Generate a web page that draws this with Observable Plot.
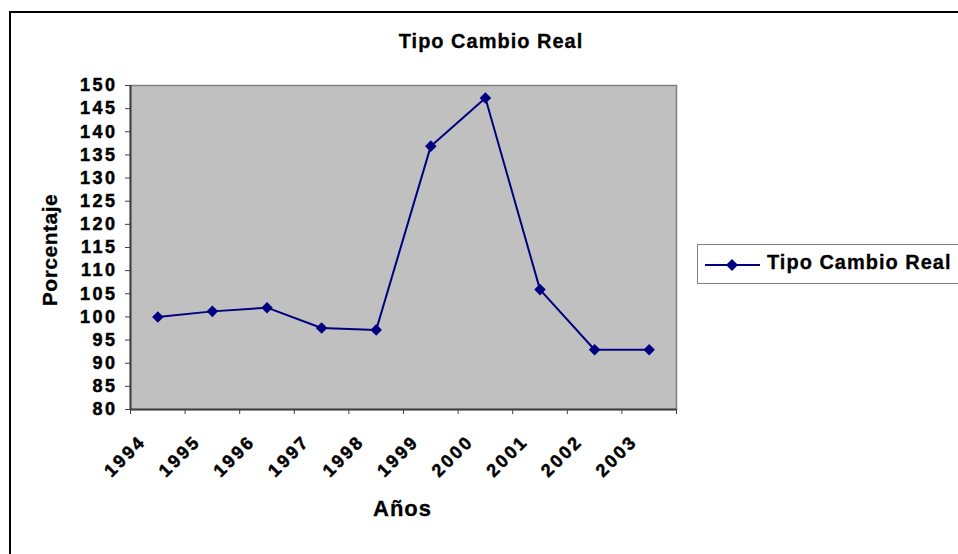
<!DOCTYPE html>
<html>
<head>
<meta charset="utf-8">
<script src="https://cdn.jsdelivr.net/npm/d3@7"></script>
<script src="https://cdn.jsdelivr.net/npm/@observablehq/plot@0.6"></script>
<style>
  html, body { margin: 0; padding: 0; background: #fff; }
  #wrap { position: relative; width: 958px; height: 554px; overflow: hidden; font-family: "Liberation Sans", Arial, sans-serif; font-weight: bold; color: #000; }
  #chart { position: absolute; left: 0; top: 0; }
  #chart g[aria-label="y-axis tick label"] text { letter-spacing: 2.5px; stroke: #000; stroke-width: 0.5px; }
  #chart g[aria-label="x-axis tick label"] text { letter-spacing: 2.5px; stroke: #000; stroke-width: 0.5px; }
  #border { position: absolute; left: 9px; top: 11px; width: 1100px; height: 700px; border: 2px solid #000; box-sizing: border-box; }
  .t { position: absolute; white-space: nowrap; line-height: 1; -webkit-text-stroke: 0.3px #000; }
  #title { left: 0; width: 982px; text-align: center; top: 31px; font-size: 20px; letter-spacing: 1px; }
  #xlab { left: 0; width: 805px; text-align: center; top: 498px; font-size: 22px; letter-spacing: 1px; }
  #ylab { left: 57px; top: 250px; font-size: 21px; letter-spacing: 0.5px; transform-origin: 0 0; }
  #legend { position: absolute; left: 697px; top: 244px; width: 320px; height: 40px; border: 1px solid #808080; box-sizing: border-box; background: #fff; }
  #legend svg { position: absolute; left: 7px; top: 9px; }
  #legend span { position: absolute; left: 69px; top: 7px; font-size: 20px; letter-spacing: 1px; line-height: 1; white-space: nowrap; -webkit-text-stroke: 0.3px #000; }
</style>
</head>
<body>
<div id="wrap">
  <div id="border"></div>
  <div id="chart"></div>
  <div class="t" id="title">Tipo Cambio Real</div>
  <div class="t" id="xlab">Años</div>
  <div class="t" id="ylab">Porcentaje</div>
  <div id="legend"><svg width="58" height="22"></svg><span>Tipo Cambio Real</span></div>
</div>
<script>
const years = ["1994","1995","1996","1997","1998","1999","2000","2001","2002","2003"];
const values = [100, 101.2, 102, 97.6, 97.2, 136.9, 147.3, 105.9, 92.9, 92.9];
const yTicks = d3.range(80, 151, 5);
const seriesName = "Tipo Cambio Real";
const lineColor = "#000080";

const data = years.map((year, i) => ({pos: i + 0.5, year, value: values[i]}));

const diamond = {
  draw(context, size) {
    const h = Math.sqrt(size / 2);
    context.moveTo(0, -h);
    context.lineTo(h, 0);
    context.lineTo(0, h);
    context.lineTo(-h, 0);
    context.closePath();
  }
};

const chart = Plot.plot({
  width: 958,
  height: 554,
  marginLeft: 130,
  marginRight: 282,
  marginTop: 85,
  marginBottom: 145,
  style: {fontFamily: "'Liberation Sans', Arial, sans-serif", fontWeight: "bold", color: "#000", background: "transparent", overflow: "visible"},
  x: {domain: [0, years.length]},
  y: {domain: [80, 150]},
  marks: [
    Plot.frame({fill: "#c0c0c0", stroke: "#808080", strokeWidth: 1.5}),
    Plot.axisY({ticks: yTicks, tickSize: 5, tickPadding: 8, label: null, fontSize: 18, stroke: "#404040"}),
    Plot.axisX({ticks: d3.range(0, years.length + 1), tickSize: 5, tickFormat: () => "", label: null, stroke: "#404040"}),
    Plot.axisX({ticks: data.map(d => d.pos), tickFormat: d => years[Math.floor(d)], tickSize: 0, tickPadding: 29, tickRotate: -45, dx: -15, label: null, fontSize: 18}),
    Plot.ruleX([0], {stroke: "#404040", strokeWidth: 2}),
    Plot.ruleY([80], {stroke: "#404040", strokeWidth: 2}),
    Plot.line(data, {x: "pos", y: "value", stroke: lineColor, strokeWidth: 2}),
    Plot.dot(data, {x: "pos", y: "value", symbol: diamond, r: 4.6, fill: lineColor, stroke: "none"})
  ]
});
document.getElementById("chart").appendChild(chart);

// vertical axis title
document.getElementById("ylab").style.transform = "rotate(-90deg) translate(-50%, -17.8px)";

// legend sample drawn with d3
const lg = d3.select("#legend svg");
lg.append("line").attr("x1", 0).attr("x2", 55).attr("y1", 11).attr("y2", 11).attr("stroke", lineColor).attr("stroke-width", 2);
lg.append("path").attr("d", "M27,5L33,11L27,17L21,11Z").attr("fill", lineColor);
</script>
</body>
</html>
